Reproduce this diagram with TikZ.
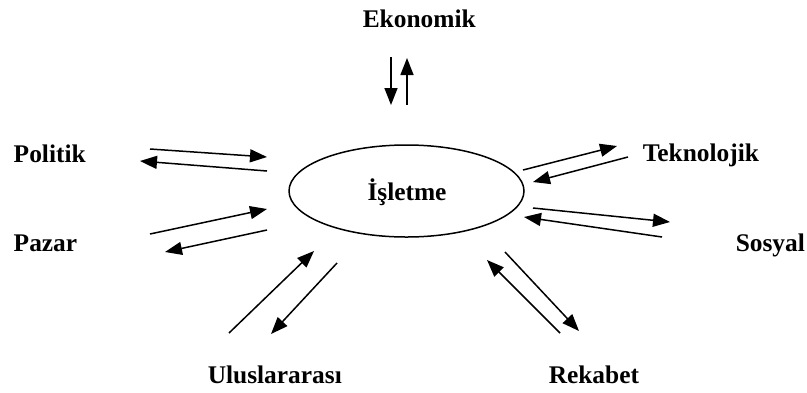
\documentclass[tikz,border=0pt]{standalone}
\usepackage{fontspec}
\setmainfont{Liberation Serif}
\usetikzlibrary{arrows.meta}
\begin{document}
\begin{tikzpicture}[>={Triangle[length=8.5pt,width=6.5pt]},line join=round,x=0.5pt,y=-0.5pt,
	font=\bfseries\fontsize{12.7}{15}\selectfont,
	lbl/.style={inner sep=0pt,anchor=base west}]
			\useasboundingbox (0,0) rectangle (807,392);
			\tikzset{every path/.style={line width=0.75pt}}
			% merkez
			\coordinate (isletme) at (406.5,191);
			\draw (isletme) ellipse [x radius=117.5, y radius=46];
			\node[inner sep=0pt,anchor=base] (isl) at (407,200) {İşletme};
			% cevre
			\node[lbl] (eko) at (362,27) {Ekonomik};
			\node[lbl] (pol) at (13,162) {Politik};
			\node[lbl] (paz) at (13,251) {Pazar};
			\node[lbl] (tek) at (642,161) {Teknolojik};
			\node[lbl] (sos) at (735,251) {Sosyal};
			\node[lbl] (ulu) at (207,383) {Uluslararası};
			\node[lbl] (rek) at (548,383) {Rekabet};
			% oklar
			\draw[->] (391,57)--(391,105);
			\draw[->] (407,105)--(407,58);
			\draw[->] (150,149)--(267,157);
			\draw[->] (267,171)--(140,161);
			\draw[->] (150,234)--(267,209);
			\draw[->] (267,230)--(165,252);
			\draw[->] (523,170)--(617,146);
			\draw[->] (628,157)--(533,182);
			\draw[->] (533,208)--(670,222);
			\draw[->] (662,237)--(524,217);
			\draw[->] (229,333)--(314,251);
			\draw[->] (337,263)--(271,334);
			\draw[->] (505,252)--(579,331);
			\draw[->] (560,333)--(487,260);
	\end{tikzpicture}
\end{document}
